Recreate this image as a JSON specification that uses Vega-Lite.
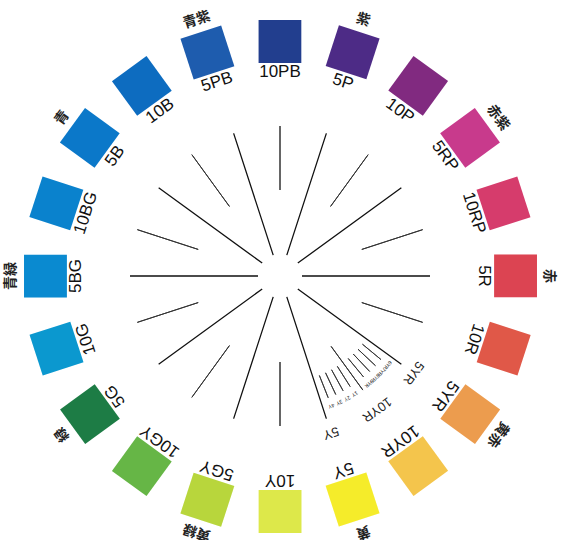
{
  "$schema": "https://vega.github.io/schema/vega-lite/v6.json",
  "width": 560,
  "height": 528,
  "autosize": {"type": "none"},
  "padding": {"left": 0, "top": 12, "right": 3, "bottom": 0},
  "background": "white",
  "config": {"view": {"stroke": null}},
  "datasets": {
    "hues": [
      {"hue": "10PB", "pos": 0},
      {"hue": "5P", "pos": 1, "jp": "紫"},
      {"hue": "10P", "pos": 2},
      {"hue": "5RP", "pos": 3, "jp": "赤紫"},
      {"hue": "10RP", "pos": 4},
      {"hue": "5R", "pos": 5, "jp": "赤"},
      {"hue": "10R", "pos": 6},
      {"hue": "5YR", "pos": 7, "jp": "黄赤"},
      {"hue": "10YR", "pos": 8},
      {"hue": "5Y", "pos": 9, "jp": "黄"},
      {"hue": "10Y", "pos": 10},
      {"hue": "5GY", "pos": 11, "jp": "黄緑"},
      {"hue": "10GY", "pos": 12},
      {"hue": "5G", "pos": 13, "jp": "緑"},
      {"hue": "10G", "pos": 14},
      {"hue": "5BG", "pos": 15, "jp": "青緑"},
      {"hue": "10BG", "pos": 16},
      {"hue": "5B", "pos": 17, "jp": "青"},
      {"hue": "10B", "pos": 18},
      {"hue": "5PB", "pos": 19, "jp": "青紫"}
    ],
    "lines": [
      {"pos": 0, "kind": "minor"}, {"pos": 1, "kind": "major"}, {"pos": 2, "kind": "minor"}, {"pos": 3, "kind": "major"},
      {"pos": 4, "kind": "minor"}, {"pos": 5, "kind": "major"}, {"pos": 6, "kind": "minor"}, {"pos": 7, "kind": "major"},
      {"pos": 8, "kind": "mid"}, {"pos": 9, "kind": "major"}, {"pos": 10, "kind": "minor"}, {"pos": 11, "kind": "major"},
      {"pos": 12, "kind": "minor"}, {"pos": 13, "kind": "major"}, {"pos": 14, "kind": "minor"}, {"pos": 15, "kind": "major"},
      {"pos": 16, "kind": "minor"}, {"pos": 17, "kind": "major"}, {"pos": 18, "kind": "minor"}, {"pos": 19, "kind": "major"}
    ],
    "fan": [
      {"pos": 7.2, "label": "6YR"}, {"pos": 7.4, "label": "7YR"}, {"pos": 7.6, "label": "8YR"}, {"pos": 7.8, "label": "9YR"},
      {"pos": 8.2, "label": "1Y"}, {"pos": 8.4, "label": "2Y"}, {"pos": 8.6, "label": "3Y"}, {"pos": 8.8, "label": "4Y"}
    ],
    "inner": [
      {"pos": 7, "label": "5YR"}, {"pos": 8, "label": "10YR"}, {"pos": 9, "label": "5Y"}
    ]
  },
  "layer": [
    {
      "data": {"name": "lines"},
      "transform": [{"filter": "datum.kind === 'major'"}],
      "mark": {"type": "arc", "radius": 150, "radius2": 22, "stroke": "#111111", "strokeWidth": 1.3, "fill": null},
      "encoding": {
        "theta": {"field": "pos", "type": "quantitative", "stack": null, "scale": {"domain": [0, 20], "range": [0, 6.283185307179586]}},
        "theta2": {"field": "pos"}
      }
    },
    {
      "data": {"name": "lines"},
      "transform": [{"filter": "datum.kind === 'minor'"}],
      "mark": {"type": "arc", "radius": 150, "radius2": 86, "stroke": "#333333", "strokeWidth": 1, "fill": null},
      "encoding": {
        "theta": {"field": "pos", "type": "quantitative", "stack": null},
        "theta2": {"field": "pos"}
      }
    },
    {
      "data": {"name": "lines"},
      "transform": [{"filter": "datum.kind === 'mid'"}],
      "mark": {"type": "arc", "radius": 141, "radius2": 87, "stroke": "#333333", "strokeWidth": 1, "fill": null},
      "encoding": {
        "theta": {"field": "pos", "type": "quantitative", "stack": null},
        "theta2": {"field": "pos"}
      }
    },
    {
      "data": {"name": "fan"},
      "mark": {"type": "arc", "radius": 131, "radius2": 107, "stroke": "#333333", "strokeWidth": 0.9, "fill": null},
      "encoding": {
        "theta": {"field": "pos", "type": "quantitative", "stack": null},
        "theta2": {"field": "pos"}
      }
    },
    {
      "data": {"name": "fan"},
      "mark": {"type": "text", "radius": 140, "fontSize": 5, "font": "DejaVu Sans", "baseline": "middle", "align": "center", "color": "#222222"},
      "encoding": {
        "theta": {"field": "pos", "type": "quantitative", "stack": null},
        "angle": {"field": "pos", "type": "quantitative", "scale": {"domain": [0, 20], "range": [0, 360]}},
        "text": {"field": "label"}
      }
    },
    {
      "data": {"name": "inner"},
      "mark": {"type": "text", "radius": 165, "fontSize": 13, "font": "Liberation Sans", "baseline": "middle", "align": "center", "color": "#222222"},
      "encoding": {
        "theta": {"field": "pos", "type": "quantitative", "stack": null},
        "angle": {"field": "pos", "type": "quantitative"},
        "text": {"field": "label"}
      }
    },
    {
      "data": {"name": "hues"},
      "mark": {"type": "text", "text": "■", "radius": 237.5, "fontSize": 56, "font": "DejaVu Sans", "baseline": "middle", "align": "center"},
      "encoding": {
        "theta": {"field": "pos", "type": "quantitative", "stack": null},
        "angle": {"field": "pos", "type": "quantitative"},
        "color": {
          "field": "hue", "type": "nominal", "legend": null,
          "scale": {
            "domain": ["10PB", "5P", "10P", "5RP", "10RP", "5R", "10R", "5YR", "10YR", "5Y", "10Y", "5GY", "10GY", "5G", "10G", "5BG", "10BG", "5B", "10B", "5PB"],
            "range": ["#223e8e", "#4d2b86", "#812a80", "#c83a8c", "#d63c6c", "#dc4452", "#e05848", "#ec9c4e", "#f4c54c", "#f5ec2a", "#dde84a", "#b8d63c", "#66b646", "#1d7c45", "#0b98cf", "#0a8ad0", "#0a82cd", "#0b78c9", "#0d6cc0", "#1e5cae"]
          }
        }
      }
    },
    {
      "data": {"name": "hues"},
      "mark": {"type": "text", "radius": 204, "fontSize": 17, "font": "Liberation Sans", "baseline": "middle", "align": "center", "color": "#111111"},
      "encoding": {
        "theta": {"field": "pos", "type": "quantitative", "stack": null},
        "angle": {"field": "pos", "type": "quantitative"},
        "text": {"field": "hue"}
      }
    },
    {
      "data": {"name": "hues"},
      "transform": [{"filter": "datum.jp"}],
      "mark": {"type": "text", "radius": 269, "fontSize": 14, "fontWeight": "bold", "font": "Noto Sans CJK JP", "baseline": "middle", "align": "center", "color": "#222222"},
      "encoding": {
        "theta": {"field": "pos", "type": "quantitative", "stack": null},
        "angle": {"field": "pos", "type": "quantitative"},
        "text": {"field": "jp"}
      }
    }
  ]
}
